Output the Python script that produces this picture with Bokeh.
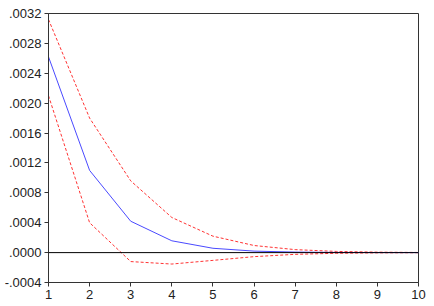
from bokeh.plotting import figure
from bokeh.models import Range1d, FixedTicker, Span
from bokeh.embed import file_html
from bokeh.resources import INLINE

periods = [1, 2, 3, 4, 5, 6, 7, 8, 9, 10]
response = [0.00262, 0.00110, 0.00042, 0.000158, 0.000058, 0.000020, 0.000007, 0.0000025, 0.0000008, 0.0000003]
upper = [0.00312, 0.00180, 0.00096, 0.00047, 0.00022, 0.000095, 0.00004, 0.000016, 0.000006, 0.000002]
lower = [0.00210, 0.00040, -0.00012, -0.000153, -0.000104, -0.000054, -0.000023, -0.000009, -0.000003, -0.000001]

y_ticks = [-0.0004, 0.0, 0.0004, 0.0008, 0.0012, 0.0016, 0.0020, 0.0024, 0.0028, 0.0032]
y_labels = ["-.0004", ".0000", ".0004", ".0008", ".0012", ".0016", ".0020", ".0024", ".0028", ".0032"]

p = figure(width=434, height=306, output_backend="svg", toolbar_location=None,
           x_range=Range1d(1, 10), y_range=Range1d(-0.0004, 0.0032),
           min_border_left=48, min_border_right=16, min_border_top=13, min_border_bottom=24)

p.xgrid.visible = False
p.ygrid.visible = False
p.background_fill_color = "white"
p.border_fill_color = "white"
p.outline_line_color = "#333333"
p.outline_line_width = 1

p.line(periods, upper, color="#ff3333", line_width=1, line_dash="3 2")
p.line(periods, lower, color="#ff3333", line_width=1, line_dash="3 2")
p.line(periods, response, color="#4a4aff", line_width=1)

zero = Span(location=0, dimension="width", line_color="black", line_width=1)
p.add_layout(zero)

for ax in (p.xaxis[0], p.yaxis[0]):
    ax.axis_line_color = "#333333"
    ax.major_tick_line_color = "#333333"
    ax.major_tick_in = 0
    ax.major_tick_out = 4
    ax.minor_tick_line_color = None
    ax.major_label_text_font = "Liberation Sans"
    ax.major_label_text_font_size = "13px"
    ax.major_label_text_color = "#222222"
    ax.major_label_standoff = 3

p.xaxis.ticker = FixedTicker(ticks=periods)
p.yaxis.ticker = FixedTicker(ticks=y_ticks)
p.yaxis.major_label_overrides = {t: l for t, l in zip(y_ticks, y_labels)}

open("out.html", "w").write(file_html(p, INLINE))
